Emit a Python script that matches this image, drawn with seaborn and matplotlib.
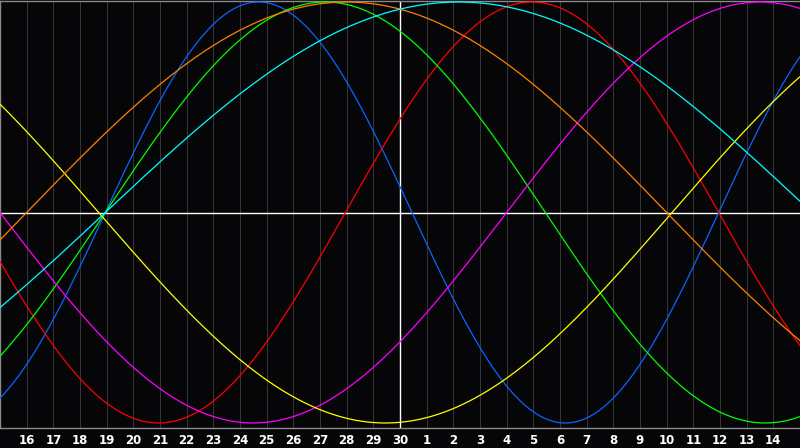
import numpy as np
import pandas as pd
import matplotlib
matplotlib.use('Agg')
import matplotlib.pyplot as plt
import seaborn as sns

# Day labels along the bottom; index 0 is the 15th of the previous month
day_labels = [16, 17, 18, 19, 20, 21, 22, 23, 24, 25, 26, 27, 28, 29, 30,
              1, 2, 3, 4, 5, 6, 7, 8, 9, 10, 11, 12, 13, 14]
today_index = 15

# Biorhythm cycles: period in days and the day index where each curve crosses zero going up
cycles = ['Physical', 'Emotional', 'Intellectual', 'Intuitive', 'Aesthetic', 'Awareness', 'Spiritual']
periods = [23, 28, 33, 38, 43, 48, 53]
zero_up = [3.95, 12.95, 3.95, 19.0, 25.2, 1.0, 3.95]
colors = ['#0a64ff', '#ff0000', '#00ff00', '#ff00ff', '#ffff00', '#ff8000', '#00ffff']

# Build long-form table
t = np.linspace(0, 30, 901)
rows = []
for name, p, z in zip(cycles, periods, zero_up):
    rows.append(pd.DataFrame({'day': t, 'value': np.sin(2 * np.pi * (t - z) / p), 'cycle': name}))
df = pd.concat(rows, ignore_index=True)

sns.set_style('dark', {'axes.facecolor': '#060608', 'figure.facecolor': '#060608'})

fig = plt.figure(figsize=(8, 4.48), dpi=100)
ax = fig.add_axes([0, 20 / 448, 1, 427.5 / 448])
ax.set_facecolor('#060608')

ax.set_xlim(0, 30)
ax.set_ylim(-215.5 / 210.5, 212 / 210.5)

ax.set_xticks(range(1, 30))
ax.set_xticklabels([str(d) for d in day_labels], color='white', fontweight='bold', fontsize=8.5)
ax.set_yticks([])
ax.tick_params(axis='x', length=0, pad=4)
ax.grid(True, axis='x', color='#363636', lw=0.75)
ax.grid(False, axis='y')

ax.axhline(0, color='white', lw=1.0, zorder=1)
ax.axvline(today_index, color='white', lw=1.0, zorder=1)

sns.lineplot(data=df, x='day', y='value', hue='cycle', palette=colors, hue_order=cycles,
             lw=0.9, legend=False, ax=ax, zorder=3)
ax.set_xlabel('')
ax.set_ylabel('')

for side in ['left', 'top', 'bottom']:
    ax.spines[side].set_visible(True)
    ax.spines[side].set_color('#8a8a8a')
    ax.spines[side].set_linewidth(1.0)
ax.spines['right'].set_visible(False)

fig.savefig('out.png', dpi=100, facecolor='#060608')
